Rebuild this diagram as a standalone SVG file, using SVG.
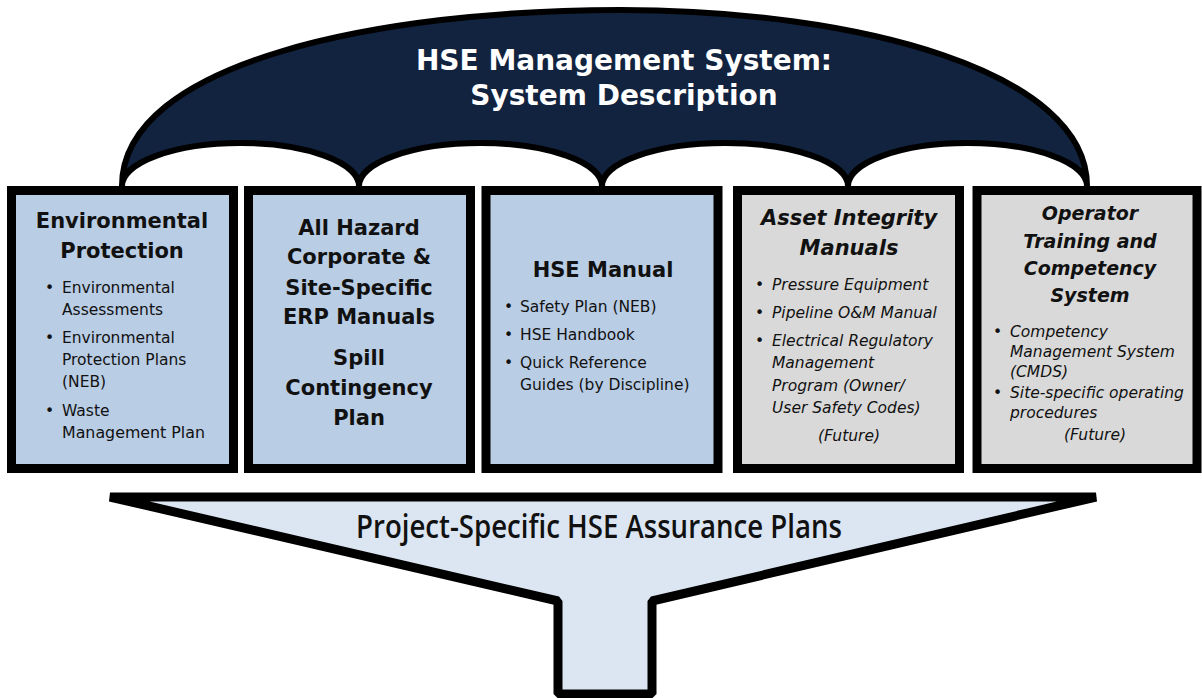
<svg xmlns="http://www.w3.org/2000/svg" width="1202" height="698" viewBox="0 0 1202 698">
<style>
.box{stroke:#000;stroke-width:9}
.blue{fill:#B9CDE5}
.gray{fill:#D9D9D9}
.t{font-family:"DejaVu Sans",Verdana,sans-serif;fill:#111}
.h{font-weight:bold;font-size:21px;text-anchor:middle}
.hi{font-weight:bold;font-style:italic;text-anchor:middle}
.b{font-size:15.5px}
.bi{font-size:15.5px;font-style:italic}
.title{font-family:"DejaVu Sans",Verdana,sans-serif;font-weight:bold;font-size:28px;fill:#fff;text-anchor:middle}
</style>
<rect width="1202" height="698" fill="#fff"/>
<g id="dome">
<path d="M122,186 C122,62 380,10 620,10 C860,10 1087,72 1087,186 A119.5,43 0 0 0 848,186 A123,43 0 0 0 602,186 A121.5,43 0 0 0 359,186 A118.5,43 0 0 0 122,186 Z" fill="#12233F" stroke="#000" stroke-width="6" stroke-linejoin="miter"/>
<text class="title" x="624" y="70">HSE Management System:</text>
<text class="title" x="624" y="105">System Description</text>
</g>
<g id="box-env">
<rect class="box blue" x="11.5" y="190.5" width="222" height="278"/>
<text class="t h" x="122" y="228" font-size="20.5">Environmental</text>
<text class="t h" x="122" y="258" font-size="20.5">Protection</text>
<g class="t b">
<text x="45" y="293">•</text><text x="62" y="293">Environmental</text>
<text x="62" y="315">Assessments</text>
<text x="45" y="343">•</text><text x="62" y="343">Environmental</text>
<text x="62" y="365">Protection Plans</text>
<text x="62" y="387">(NEB)</text>
<text x="45" y="416">•</text><text x="62" y="416">Waste</text>
<text x="62" y="438" textLength="143" lengthAdjust="spacingAndGlyphs">Management Plan</text>
</g>
</g>
<g id="box-erp">
<rect class="box blue" x="248.5" y="190.5" width="222" height="278"/>
<g class="t h">
<text x="359" y="235">All Hazard</text>
<text x="359" y="264">Corporate &amp;</text>
<text x="359" y="295">Site-Specific</text>
<text x="359" y="324">ERP Manuals</text>
<text x="359" y="365">Spill</text>
<text x="359" y="395">Contingency</text>
<text x="359" y="425">Plan</text>
</g>
</g>
<g id="box-hse">
<rect class="box blue" x="486" y="190.5" width="232" height="278"/>
<text class="t h" x="603" y="277">HSE Manual</text>
<g class="t b">
<text x="504" y="312">•</text><text x="520" y="312">Safety Plan (NEB)</text>
<text x="504" y="340">•</text><text x="520" y="340">HSE Handbook</text>
<text x="504" y="368">•</text><text x="520" y="368">Quick Reference</text>
<text x="520" y="390">Guides (by Discipline)</text>
</g>
</g>
<g id="box-asset">
<rect class="box gray" x="737.5" y="190.5" width="222" height="278"/>
<text class="t hi" x="849" y="225" font-size="21">Asset Integrity</text>
<text class="t hi" x="849" y="255" font-size="21">Manuals</text>
<g class="t bi">
<text x="755" y="290">•</text><text x="772" y="290">Pressure Equipment</text>
<text x="755" y="318">•</text><text x="772" y="318">Pipeline O&amp;M Manual</text>
<text x="755" y="346">•</text><text x="772" y="346">Electrical Regulatory</text>
<text x="772" y="368">Management</text>
<text x="772" y="391">Program (Owner/</text>
<text x="772" y="413">User Safety Codes)</text>
<text x="849" y="441" text-anchor="middle">(Future)</text>
</g>
</g>
<g id="box-operator">
<rect class="box gray" x="977" y="190.5" width="220" height="278"/>
<g class="t hi" font-size="19">
<text x="1090" y="220">Operator</text>
<text x="1090" y="248">Training and</text>
<text x="1090" y="275">Competency</text>
<text x="1090" y="302">System</text>
</g>
<g class="t bi">
<text x="993" y="337">•</text><text x="1010" y="337">Competency</text>
<text x="1010" y="357">Management System</text>
<text x="1010" y="377">(CMDS)</text>
<text x="993" y="398">•</text><text x="1010" y="398">Site-specific operating</text>
<text x="1010" y="418">procedures</text>
<text x="1095" y="440" text-anchor="middle">(Future)</text>
</g>
</g>
<g id="funnel">
<polygon points="110,497 1096,497 652,601 652,694 558,694 558,601" fill="#DCE6F2" stroke="#000" stroke-width="9" stroke-linejoin="bevel"/>
<text x="599" y="538" font-family="'Open Sans','Liberation Sans',sans-serif" font-weight="600" font-size="33" fill="#111" text-anchor="middle" textLength="486" lengthAdjust="spacingAndGlyphs">Project-Specific HSE Assurance Plans</text>
</g>
<g id="connectors"></g>
</svg>
